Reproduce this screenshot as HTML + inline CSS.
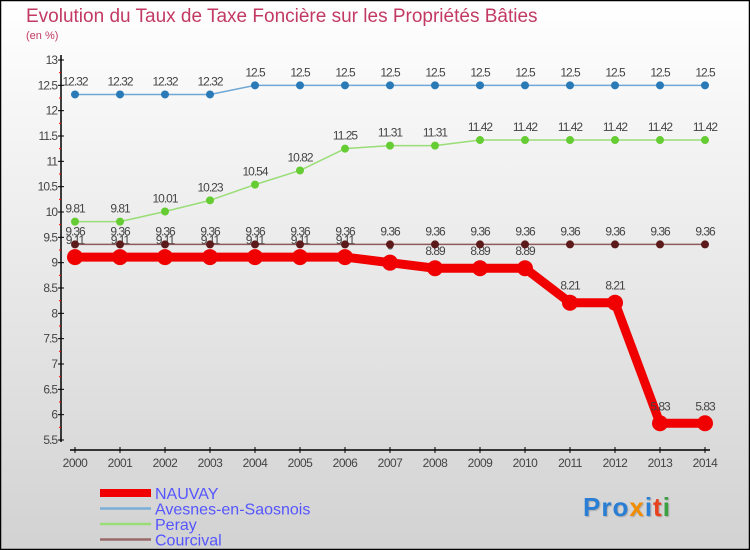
<!DOCTYPE html>
<html><head><meta charset="utf-8"><style>
body{margin:0}
svg{display:block;font-family:"Liberation Sans",sans-serif}
</style></head><body>
<svg id="chart" width="750" height="550" viewBox="0 0 750 550" xmlns="http://www.w3.org/2000/svg">
<defs><linearGradient id="bg" x1="0" y1="0" x2="0" y2="1"><stop offset="0" stop-color="#ffffff"/><stop offset="1" stop-color="#d2d2d2"/></linearGradient></defs>
<rect x="0.5" y="0.5" width="749" height="549" fill="url(#bg)" stroke="#000" stroke-width="1.5"/>
<text x="26" y="22" font-size="19" fill="#c23a64">Evolution du Taux de Taxe Foncière sur les Propriétés Bâties</text>
<text x="26" y="39" font-size="11" fill="#c23a64">(en %)</text>
<g id="axes"></g>
<g id="series"></g>
<g id="legend"></g>
<text x="583" y="516" font-size="26" font-weight="bold" letter-spacing="1" style="text-shadow:1px 1px 1px #aaa"><tspan fill="#2a7fd4">Pro</tspan><tspan fill="#f08c00">x</tspan><tspan fill="#2a7fd4">i</tspan><tspan fill="#e8401c">t</tspan><tspan fill="#3aa040">i</tspan></text>
</svg>
<script>
const years=[2000,2001,2002,2003,2004,2005,2006,2007,2008,2009,2010,2011,2012,2013,2014];
const nauvay=[9.11,9.11,9.11,9.11,9.11,9.11,9.11,9,8.89,8.89,8.89,8.21,8.21,5.83,5.83];
const avesnes=[12.32,12.32,12.32,12.32,12.5,12.5,12.5,12.5,12.5,12.5,12.5,12.5,12.5,12.5,12.5];
const peray=[9.81,9.81,10.01,10.23,10.54,10.82,11.25,11.31,11.31,11.42,11.42,11.42,11.42,11.42,11.42];
const courcival=[9.36,9.36,9.36,9.36,9.36,9.36,9.36,9.36,9.36,9.36,9.36,9.36,9.36,9.36,9.36];
const yTicks=[5.5,6,6.5,7,7.5,8,8.5,9,9.5,10,10.5,11,11.5,12,12.5,13];
const NS="http://www.w3.org/2000/svg";
const xS=i=>75+i*45;
const yS=v=>60+(13-v)*(380/7.5);
function mk(t,a,p){const e=document.createElementNS(NS,t);for(const k in a)e.setAttribute(k,a[k]);p.appendChild(e);return e;}
const ax=document.getElementById('axes');
let l=mk('line',{x1:61,y1:55,x2:61,y2:442,stroke:'#000','stroke-width':1.5},ax);

l=mk('line',{x1:70,y1:450,x2:710,y2:450,stroke:'#000','stroke-width':1.5},ax);

yTicks.forEach((v,i)=>{
 const y=yS(v);
 mk('line',{x1:58,y1:y,x2:64,y2:y,stroke:'#000'},ax);
 if(i<yTicks.length-1)mk('line',{x1:59,y1:y-12.67,x2:61,y2:y-12.67,stroke:'#f00'},ax);
 const t=mk('text',{x:57,y:y+4,'font-size':12,fill:'#444','text-anchor':'end','letter-spacing':'-1'},ax);
 
 t.textContent=String(v);
});
years.forEach((yr,i)=>{
 const x=xS(i);
 mk('line',{x1:x,y1:447,x2:x,y2:453,stroke:'#000'},ax);
 const t=mk('text',{x:x,y:467,'font-size':12,fill:'#444','text-anchor':'middle','letter-spacing':'-0.5'},ax);
 
 t.textContent=String(yr);
});
const sg=document.getElementById('series');
function series(name,data,color,dot,w,r){
 const g=mk('g',{},sg);
 
 mk('polyline',{points:data.map((v,i)=>xS(i)+','+yS(v)).join(' '),fill:'none',stroke:color,'stroke-width':w,'stroke-linejoin':'round'},g);
 data.forEach((v,i)=>{
  const c=mk('circle',{cx:xS(i),cy:yS(v),r:r,fill:dot},g);
  
  const t=mk('text',{x:xS(i),y:yS(v)-(r>5?13:9),'font-size':12,fill:'#444','text-anchor':'middle','letter-spacing':'-1'},g);
  
  t.textContent=String(v);
 });
}
series('nauvay',nauvay,'#f00000','#f00000',9,8);
series('courcival',courcival,'#8c5a5a','#5c1a1a',1.5,4);
series('peray',peray,'#99dd77','#66cc33',1.5,4);
series('avesnes',avesnes,'#6fa8d6','#2a7ab8',1.5,4);
const lg=document.getElementById('legend');
[['NAUVAY','#f00000',8],['Avesnes-en-Saosnois','#7aaed6',2.5],['Peray','#99dd77',2.5],['Courcival','#9a6a6a',2.5]].forEach((d,i)=>{
 const y=493+i*15.5;
 mk('line',{x1:100,y1:y,x2:151,y2:y,stroke:d[1],'stroke-width':d[2]},lg);
 const t=mk('text',{x:155,y:y+6,'font-size':16,fill:'#5555ff'},lg);
 
 t.textContent=d[0];
});
</script>
</body></html>
